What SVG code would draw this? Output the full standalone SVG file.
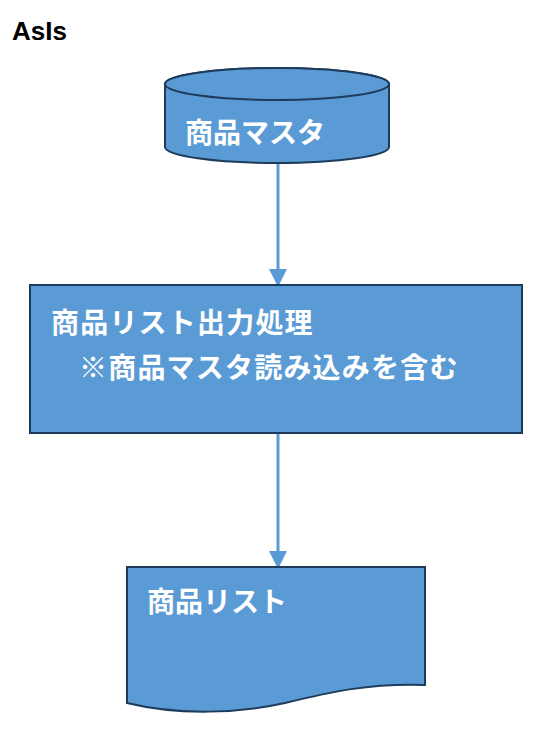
<svg xmlns="http://www.w3.org/2000/svg" width="542" height="738" viewBox="0 0 542 738">
<defs>
<style>
.shape{fill:#5B9BD5;stroke:#1F3B5C;stroke-width:2}
.lbl{fill:#FFFFFF;font-family:"Noto Sans CJK JP","Noto Sans CJK SC",sans-serif;font-size:28px;font-weight:bold}
.sp{letter-spacing:1.2px}
.conn{stroke:#5B9BD5;stroke-width:3;fill:none}
.title{fill:#000;font-family:"Liberation Sans",Arial,sans-serif;font-size:26px;font-weight:bold}
</style>
<marker id="arr" markerWidth="6" markerHeight="6" refX="5" refY="3" orient="auto" markerUnits="strokeWidth">
<path d="M0,0 L6,3 L0,6 Z" fill="#5B9BD5"/>
</marker>
</defs>
<rect width="542" height="738" fill="#FFFFFF"/>
<text class="title" x="12" y="40">AsIs</text>
<g id="connectors">
<line class="conn" x1="278" y1="163" x2="278" y2="284" marker-end="url(#arr)"/>
<line class="conn" x1="278" y1="434" x2="278" y2="566" marker-end="url(#arr)"/>
</g>
<g id="master">
<path class="shape" d="M165,84 V147 A112,16 0 0 0 389,147 V84 A112,16 0 0 0 165,84 Z"/>
<ellipse class="shape" cx="277" cy="84" rx="112" ry="16"/>
<text class="lbl" x="185" y="143">商品マスタ</text>
</g>
<g id="process">
<rect class="shape" x="30" y="285" width="492" height="148"/>
<text class="lbl sp" x="51" y="333">商品リスト出力処理</text>
<text class="lbl sp" x="79" y="378">※商品マスタ読み込みを含む</text>
</g>
<g id="list">
<path class="shape" d="M127,567 H425 V685 C370,683 330,692 285,703 C240,713 180,716 127,703 Z"/>
<text class="lbl" x="147" y="612">商品リスト</text>
</g>
</svg>
